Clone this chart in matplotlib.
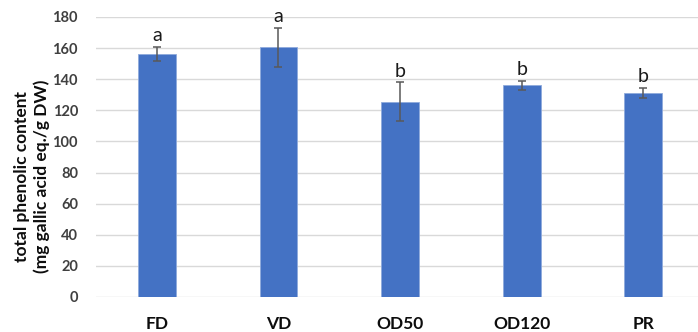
import matplotlib
matplotlib.use("Agg")
import matplotlib.pyplot as plt
import numpy as np

treatments = ["FD", "VD", "OD50", "OD120", "PR"]
phenolic_mean = [156.0, 160.5, 125.5, 136.0, 131.0]
phenolic_err = [4.6, 12.6, 12.5, 3.1, 3.2]
group_letters = ["a", "a", "b", "b", "b"]
y_ticks = [0, 20, 40, 60, 80, 100, 120, 140, 160, 180]

W, H = 698, 332
fig = plt.figure(figsize=(W / 100, H / 100), dpi=100)
ax = fig.add_axes([96 / W, 35 / H, (W - 96) / W, 280 / H])

x = np.arange(len(treatments))
ax.bar(x, phenolic_mean, width=0.31, color="#4472C4", edgecolor="#8FAADC",
       linewidth=0.6, zorder=2)
ax.errorbar(x, phenolic_mean, yerr=phenolic_err, fmt="none", ecolor="#595959",
            elinewidth=1.1, capsize=3, capthick=1.1, zorder=3)

for xi, m, e, lab in zip(x, phenolic_mean, phenolic_err, group_letters):
    ax.annotate(lab, (xi, m + e), xytext=(0, 2.0), textcoords="offset points",
                ha="center", va="bottom", fontsize=14, family="Lato",
                color="#1a1a1a", annotation_clip=False)

ax.set_xlim(-0.5, 4.45)
ax.set_ylim(0, 180)
ax.set_yticks(y_ticks)
ax.yaxis.grid(True, color="#D9D9D9", linewidth=1.0, zorder=0)
ax.set_axisbelow(True)
for s in ax.spines.values():
    s.set_visible(False)

ax.set_xticks(x)
ax.set_xticklabels(treatments, fontsize=12.5, fontweight="bold", family="Lato",
                   color="#0d0d0d")
ax.tick_params(axis="x", length=0, pad=14)
ax.tick_params(axis="y", length=0, pad=13)
for t in ax.get_yticklabels():
    t.set_fontsize(10.5)
    t.set_fontweight("bold")
    t.set_family("Lato")
    t.set_color("#404040")

fig.text(32 / W, 156 / H, "total phenolic content\n(mg gallic acid eq./g DW)",
         rotation=90, ha="center", va="center", fontsize=12.5,
         fontweight="bold", family="Lato", color="#0d0d0d", linespacing=1.25)

fig.savefig("out.png", dpi=100)
